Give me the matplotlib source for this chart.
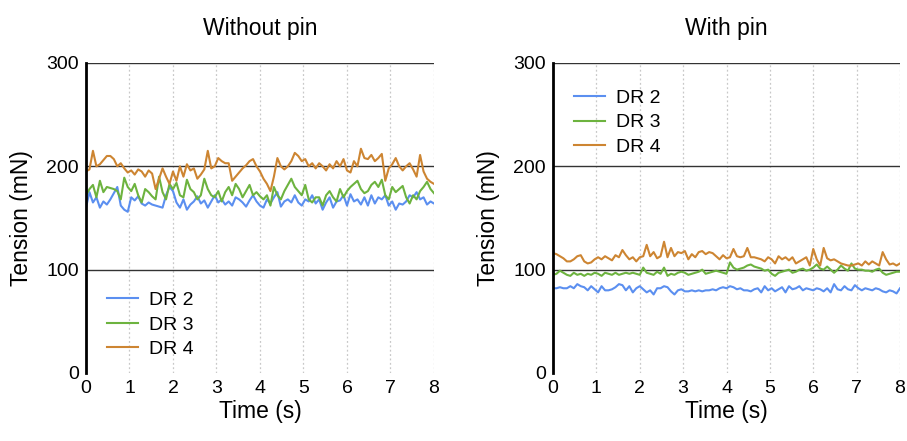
import numpy as np
import matplotlib
matplotlib.use("Agg")
import matplotlib.pyplot as plt

plt.rcParams["font.family"] = ["Liberation Sans", "DejaVu Sans"]

# tension traces, sampled every 0.08 s from 0 to 8 s
no_pin_dr2 = [160, 175, 165, 170, 160, 166, 163, 168, 174, 180, 162,
              158, 156, 170, 167, 171, 164, 162, 165, 163, 162,
              161, 160, 172, 180, 176, 165, 160, 168, 158, 163,
              166, 171, 164, 167, 160, 166, 172, 165, 168, 163,
              166, 162, 170, 168, 165, 161, 167, 172, 166, 162,
              160, 168, 164, 170, 175, 161, 166, 168, 165, 172,
              165, 162, 168, 166, 172, 164, 168, 158, 165, 170,
              160, 166, 167, 172, 162, 173, 166, 168, 163, 170,
              162, 172, 164, 170, 168, 172, 162, 166, 158, 164,
              163, 166, 172, 170, 175, 168, 170, 163, 166, 164]
no_pin_dr3 = [172, 178, 182, 170, 186, 175, 180, 179, 178, 176, 168,
              189, 180, 176, 183, 172, 165, 178, 175, 171, 168,
              190, 175, 168, 183, 178, 184, 172, 170, 187, 178,
              175, 168, 172, 188, 178, 172, 170, 176, 166, 175,
              180, 172, 183, 178, 170, 176, 182, 172, 175, 171,
              168, 172, 162, 180, 172, 168, 176, 182, 188, 180,
              176, 172, 182, 168, 165, 170, 170, 162, 172, 176,
              170, 166, 178, 170, 176, 180, 183, 186, 178, 174,
              176, 182, 185, 180, 187, 172, 168, 180, 175, 178,
              181, 170, 164, 172, 168, 176, 180, 185, 178, 174]
no_pin_dr4 = [195, 197, 215, 200, 202, 206, 210, 210, 207, 200, 203,
              198, 194, 196, 192, 197, 195, 190, 196, 193, 178,
              188, 198, 190, 183, 195, 186, 200, 190, 202, 196,
              198, 188, 192, 197, 215, 198, 200, 208, 205, 203,
              203, 186, 190, 194, 198, 201, 205, 207, 200, 195,
              188, 183, 176, 190, 208, 200, 197, 200, 205, 213,
              210, 205, 207, 200, 203, 198, 203, 200, 196, 202,
              198, 205, 200, 207, 196, 194, 205, 200, 217, 208,
              207, 211, 205, 208, 212, 186, 198, 202, 208, 200,
              196, 200, 203, 197, 190, 211, 195, 188, 185, 183]

pin_dr2 = [82, 82, 83, 82, 82, 84, 82, 86, 84, 83, 80,
           84, 81, 78, 84, 80, 80, 81, 83, 86, 85,
           80, 84, 78, 82, 84, 81, 78, 80, 76, 82,
           82, 84, 83, 79, 76, 80, 81, 79, 79, 80,
           79, 80, 79, 80, 80, 81, 80, 82, 83, 82,
           84, 83, 81, 82, 80, 80, 79, 81, 82, 78,
           84, 80, 82, 79, 81, 83, 78, 84, 81, 82,
           84, 80, 82, 81, 80, 82, 81, 79, 82, 78,
           86, 81, 80, 84, 81, 80, 85, 82, 80, 82,
           81, 80, 82, 81, 79, 78, 80, 79, 77, 82]
pin_dr3 = [95, 96, 99, 97, 95, 94, 97, 95, 96, 94, 96,
           95, 97, 96, 94, 97, 96, 95, 97, 95, 96,
           97, 96, 97, 96, 95, 102, 97, 96, 95, 98,
           96, 102, 94, 96, 95, 97, 98, 97, 95, 96,
           97, 98, 100, 96, 97, 98, 99, 98, 97, 96,
           107, 102, 100, 101, 102, 104, 105, 103, 102, 101,
           99, 100, 96, 94, 97, 98, 99, 100, 97, 98,
           100, 101, 99, 100, 102, 105, 101, 100, 103, 100,
           97, 100, 104, 101, 99, 106, 101, 100, 100, 99,
           99, 98, 100, 101, 97, 95, 96, 97, 98, 98]
pin_dr4 = [116, 115, 113, 111, 108, 108, 110, 113, 114, 108, 106,
           107, 110, 112, 110, 113, 111, 109, 114, 112, 119,
           114, 110, 112, 108, 112, 113, 124, 113, 117, 111,
           113, 127, 112, 121, 113, 117, 116, 118, 110, 115,
           112, 117, 118, 115, 117, 116, 113, 110, 114, 111,
           112, 120, 113, 112, 113, 121, 112, 112, 111, 110,
           108, 112, 110, 106, 113, 110, 112, 109, 112, 106,
           108, 110, 112, 104, 120, 110, 104, 121, 111, 109,
           110, 108, 106, 105, 104, 104, 105, 106, 104, 108,
           105, 108, 106, 104, 117, 110, 105, 106, 104, 106]

labels = ["DR 2", "DR 3", "DR 4"]
colors = ["#5B8FF0", "#6DB33F", "#CD8532"]
titles = ["Without pin", "With pin"]
x_ticks = [0, 1, 2, 3, 4, 5, 6, 7, 8]
y_ticks = [0, 100, 200, 300]

fig = plt.figure(figsize=(9.07, 4.41), dpi=100)
ax1 = fig.add_axes([0.0948, 0.1542, 0.3837, 0.703])
ax2 = fig.add_axes([0.6097, 0.1542, 0.3826, 0.703])

# legend placement per panel: (loc, anchor in axes coords)
panels = [(ax1, [no_pin_dr2, no_pin_dr3, no_pin_dr4], "lower left", (0.0, -0.021)),
          (ax2, [pin_dr2, pin_dr3, pin_dr4], "upper left", (0.0, 0.984))]

for (ax, series, loc, anchor), title in zip(panels, titles):
    for vals, lbl, c in zip(series, labels, colors):
        t = np.linspace(0, 8, len(vals))
        ax.plot(t, vals, color=c, lw=1.5, label=lbl)
    ax.set_xlim(0, 8)
    ax.set_ylim(0, 300)
    ax.set_xticks(x_ticks)
    ax.set_yticks(y_ticks)
    for x in x_ticks[1:]:
        ax.axvline(x, color="#c8c8c8", lw=0.9, ls=(0, (1.5, 2)), zorder=0)
    for y in y_ticks[1:]:
        ax.axhline(y, color="#333333", lw=1.0, zorder=0.5)
    for s in ["top", "right", "bottom"]:
        ax.spines[s].set_visible(False)
    ax.spines["left"].set_linewidth(2.0)
    ax.tick_params(length=0, labelsize=14, pad=5)
    ax.set_xlabel("Time (s)", fontsize=16.5, labelpad=2)
    ax.set_ylabel("Tension (mN)", fontsize=16.5, labelpad=10)
    ax.set_title(title, fontsize=16.5, pad=20)
    ax.legend(loc=loc, bbox_to_anchor=anchor, frameon=False, fontsize=14,
              handlelength=1.55, labelspacing=0.35, borderaxespad=0.7,
              handletextpad=0.6)

fig.savefig("out.png", dpi=100)
